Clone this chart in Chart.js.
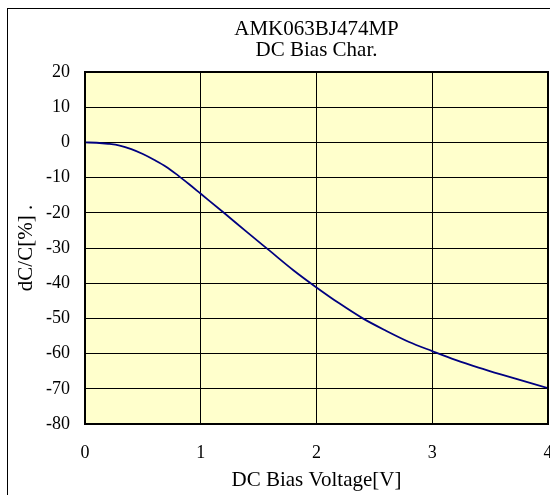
<!DOCTYPE html>
<html>
<head>
<meta charset="utf-8">
<script src="https://cdn.jsdelivr.net/npm/chart.js@4/dist/chart.umd.min.js"></script>
<style>
  html, body { margin: 0; padding: 0; background: #ffffff; overflow: hidden; }
  #wrap { width: 550px; height: 495px; }
</style>
</head>
<body>
<div id="wrap"><canvas id="c" width="550" height="495"></canvas></div>
<script>
const titleLines = ['AMK063BJ474MP', 'DC Bias Char.'];
const xAxisTitle = 'DC Bias Voltage[V]';
const yAxisTitle = 'dC/C[%] .';
const voltages = [0, 0.1, 0.2, 0.3, 0.4, 0.5, 0.6, 0.7, 0.8, 0.9, 1.0, 1.2, 1.4, 1.6, 1.8, 2.0, 2.2, 2.4, 2.6, 2.8, 3.0, 3.2, 3.4, 3.6, 3.8, 4.0];
const dcValues = [0, -0.1, -0.4, -0.9, -1.9, -3.3, -5.0, -6.9, -9.3, -11.9, -14.6, -20.0, -25.5, -30.9, -36.3, -41.2, -45.8, -50.0, -53.5, -56.7, -59.3, -61.8, -64.0, -66.0, -67.9, -69.8];
const xTicks = [0, 1, 2, 3, 4];
const yTicks = [20, 10, 0, -10, -20, -30, -40, -50, -60, -70, -80];

const serif = "'Liberation Serif', 'Times New Roman', serif";

const framePlugin = {
  id: 'frame',
  beforeDraw(chart) {
    const ctx = chart.ctx, a = chart.chartArea;
    ctx.save();
    ctx.strokeStyle = '#000000';
    ctx.lineWidth = 1;
    ctx.strokeRect(7.5, 8.5, 700, 700);
    ctx.fillStyle = '#FFFFCC';
    ctx.fillRect(a.left, a.top, a.right - a.left, a.bottom - a.top);
    ctx.restore();
  },
  afterDatasetsDraw(chart) {
    const ctx = chart.ctx, a = chart.chartArea;
    ctx.save();
    ctx.strokeStyle = '#000000';
    ctx.lineWidth = 2;
    ctx.strokeRect(a.left, a.top, a.right - a.left, a.bottom - a.top);
    ctx.restore();
  }
};

new Chart(document.getElementById('c'), {
  type: 'line',
  data: {
    datasets: [{
      data: voltages.map((v, i) => ({ x: v, y: dcValues[i] })),
      borderColor: '#000080',
      borderWidth: 1.8,
      pointRadius: 0,
      fill: false,
      cubicInterpolationMode: 'monotone'
    }]
  },
  options: {
    responsive: false,
    animation: false,
    devicePixelRatio: 1,
    layout: { padding: { left: 0, right: 2, top: 0, bottom: 0 } },
    plugins: {
      legend: { display: false },
      tooltip: { enabled: false },
      title: {
        display: true,
        fullSize: false,
        text: titleLines,
        color: '#000000',
        font: { family: serif, size: 21, weight: 'normal', lineHeight: 1.0 },
        padding: { top: 18.5, bottom: 11.5 }
      }
    },
    scales: {
      x: {
        type: 'linear',
        min: 0, max: 4,
        afterBuildTicks(scale) { scale.ticks = xTicks.map(v => ({ value: v })); },
        afterFit(scale) { scale.height = 71; scale.paddingLeft = 0; scale.paddingRight = 0; },
        grid: { color: '#000000', lineWidth: 1, drawTicks: false },
        border: { display: false },
        ticks: { color: '#000000', font: { family: serif, size: 18 }, padding: 18, maxRotation: 0 },
        title: { display: true, text: xAxisTitle, color: '#000000', font: { family: serif, size: 21 }, padding: { top: 0, bottom: 2.4 } }
      },
      y: {
        type: 'linear',
        min: -80, max: 20,
        afterBuildTicks(scale) { scale.ticks = yTicks.map(v => ({ value: v })); },
        afterFit(scale) { scale.width = 85; },
        grid: { color: '#000000', lineWidth: 1, drawTicks: false },
        border: { display: false },
        ticks: { color: '#000000', font: { family: serif, size: 18 }, padding: 15 },
        title: { display: true, text: yAxisTitle, color: '#000000', font: { family: serif, size: 21 }, padding: { top: 14, bottom: 0 } }
      }
    }
  },
  plugins: [framePlugin]
});
</script>
</body>
</html>
